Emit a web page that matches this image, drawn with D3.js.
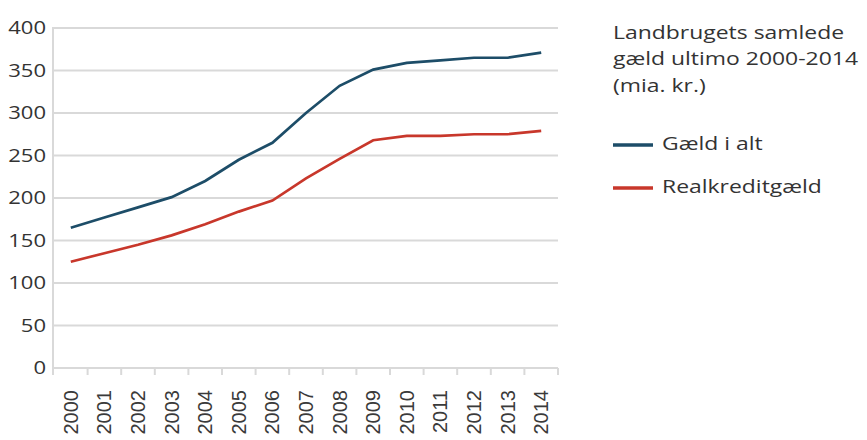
<!DOCTYPE html>
<html>
<head>
<meta charset="utf-8">
<script src="https://cdn.jsdelivr.net/npm/d3@7"></script>
<style>
  body { margin: 0; background: #fff; }
  svg { display: block; }
</style>
</head>
<body>
<svg class="chart" width="867" height="440"></svg>
<script>
const years = ["2000","2001","2002","2003","2004","2005","2006","2007","2008","2009","2010","2011","2012","2013","2014"];
const gaeldIAlt = [165, 177, 189, 201, 220, 245, 265, 300, 332, 351, 359, 362, 365, 365, 371];
const realkredit = [125, 135, 145, 156, 169, 184, 197, 223, 246, 268, 273, 273, 275, 275, 279];
const yTicks = [0, 50, 100, 150, 200, 250, 300, 350, 400];
const titleLines = ["Landbrugets samlede", "gæld ultimo 2000-2014", "(mia. kr.)"];
const seriesNames = ["Gæld i alt", "Realkreditgæld"];

const BLUE = "#1d4d68";
const RED = "#c8372b";
const GRID = "#d9d9d9";
const TEXT = "#333";

const svg = d3.select(".chart");
const L = 54, R = 558, T = 28, B = 368;
// the reference type is wider than Open Sans, so stretch it a bit
const STRETCH = 1.24;

const x = d3.scaleBand().domain(years).range([L, R]);
const y = d3.scaleLinear().domain([0, 400]).range([B, T]);

// gridlines
svg.append("g")
    .selectAll("line")
    .data(yTicks)
    .enter()
    .append("line")
    .attr("x1", L - 1)
    .attr("x2", R)
    .attr("y1", d => y(d))
    .attr("y2", d => y(d))
    .style("stroke", GRID)
    .style("stroke-width", 2);

// vertical axis line
svg.append("line")
    .attr("x1", L - 1).attr("x2", L - 1)
    .attr("y1", y(400) - 1).attr("y2", B + 7)
    .style("stroke", GRID)
    .style("stroke-width", 2);

// x ticks at band edges
const edges = years.map(d => x(d)).concat([R]);
svg.append("g")
    .selectAll("line")
    .data(edges.slice(1))
    .enter()
    .append("line")
    .attr("x1", d => d).attr("x2", d => d)
    .attr("y1", B).attr("y2", B + 7)
    .style("stroke", GRID)
    .style("stroke-width", 2);

// y labels
svg.append("g")
    .selectAll("text")
    .data(yTicks)
    .enter()
    .append("text")
    .attr("transform", d => `translate(46, ${y(d)}) scale(1.16, 1)`)
    .attr("dy", "0.33em")
    .text(d => d)
    .style("text-anchor", "end")
    .style("font-family", "'Open Sans', sans-serif")
    .style("font-size", "19px")
    .style("fill", TEXT);

// x labels
svg.append("g")
    .selectAll("text")
    .data(years)
    .enter()
    .append("text")
    .attr("transform", d => `translate(${x(d) + x.bandwidth() / 2 + 7}, 390) rotate(-90)`)
    .text(d => d)
    .style("text-anchor", "end")
    .style("font-family", "'Liberation Sans', Arial, sans-serif")
    .style("font-size", "20px")
    .style("fill", "#3a3a3a");

const line = d3.line()
    .x((d, i) => x(years[i]) + x.bandwidth() / 2)
    .y(d => y(d));

svg.append("path")
    .datum(realkredit)
    .attr("d", line)
    .style("fill", "none")
    .style("stroke", RED)
    .style("stroke-width", 2.7);

svg.append("path")
    .datum(gaeldIAlt)
    .attr("d", line)
    .style("fill", "none")
    .style("stroke", BLUE)
    .style("stroke-width", 2.7);

// legend title
svg.append("g")
    .selectAll("text")
    .data(titleLines)
    .enter()
    .append("text")
    .attr("transform", (d, i) => `translate(613, ${38.5 + i * 26.5}) scale(${STRETCH}, 1)`)
    .text(d => d)
    .style("font-family", "'Open Sans', sans-serif")
    .style("font-size", "18.5px")
    .style("fill", TEXT);

const legend = svg.append("g")
    .selectAll("g")
    .data(seriesNames)
    .enter()
    .append("g")
    .attr("transform", (d, i) => `translate(613, ${145 + i * 43})`);

legend.append("line")
    .attr("x1", 0).attr("x2", 40)
    .style("stroke", (d, i) => i == 0 ? BLUE : RED)
    .style("stroke-width", 3.5);

legend.append("text")
    .attr("transform", `translate(49, 5) scale(${STRETCH}, 1)`)
    .text(d => d)
    .style("font-family", "'Open Sans', sans-serif")
    .style("font-size", "18.5px")
    .style("fill", TEXT);
</script>
</body>
</html>
